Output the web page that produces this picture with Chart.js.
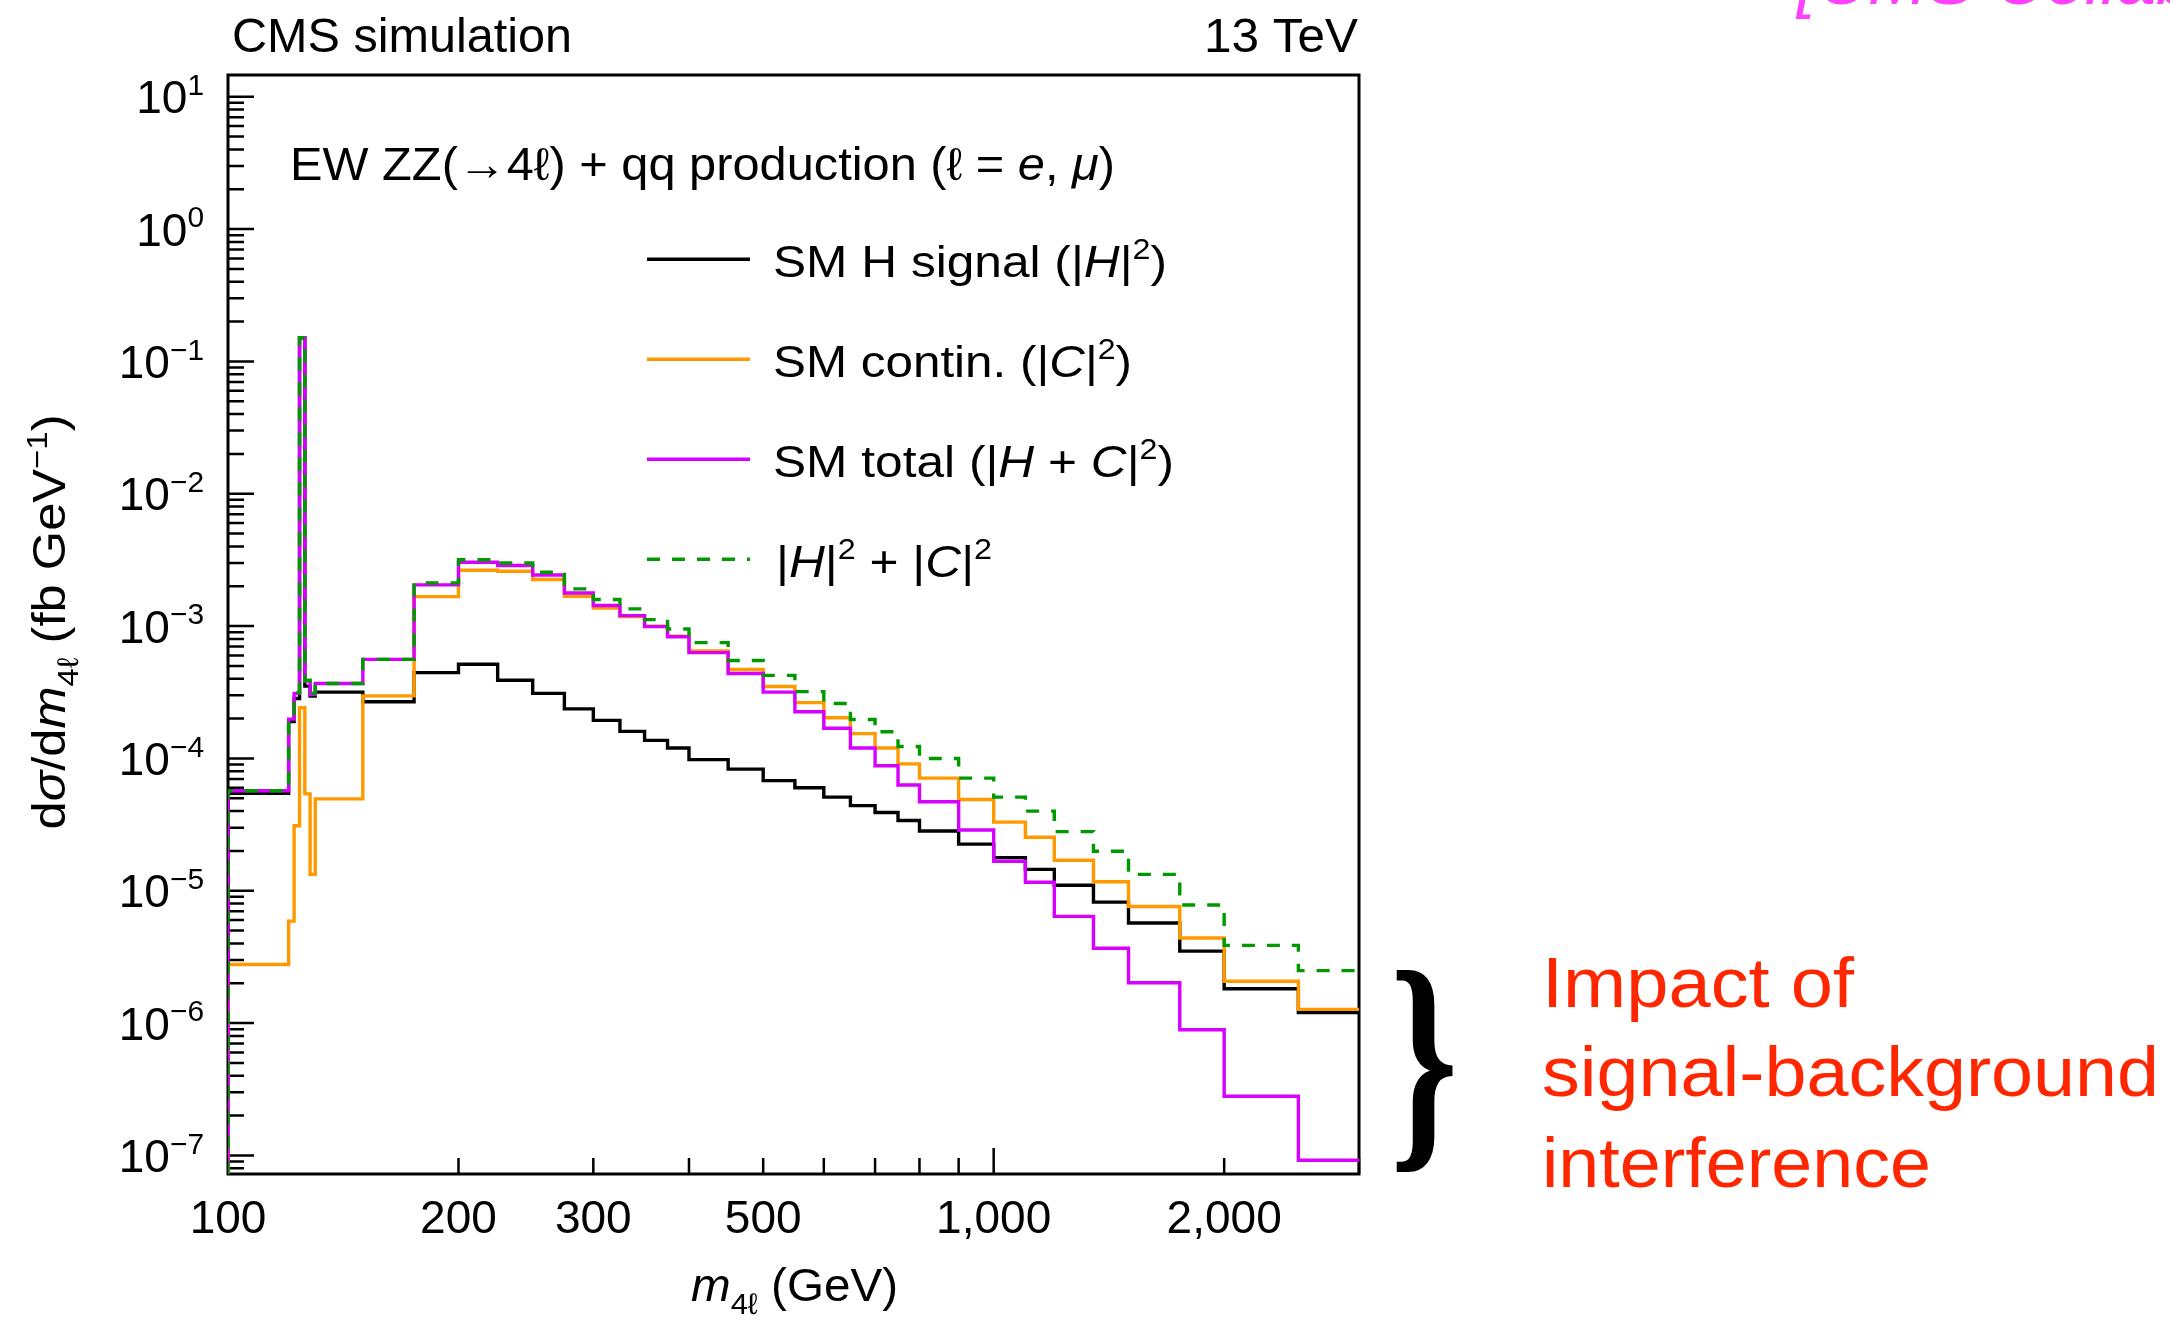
<!DOCTYPE html>
<html>
<head>
<meta charset="utf-8">
<title>EW ZZ(→4ℓ) + qq production</title>
<script src="https://cdn.jsdelivr.net/npm/chart.js@4.4.1/dist/chart.umd.min.js"></script>
<style>
    html, body { margin: 0; padding: 0; background: #fff; }
    #wrap { position: relative; width: 2170px; height: 1324px; overflow: hidden; }
</style>
</head>
<body>
<div id="wrap"><canvas id="m4lChart" width="2170" height="1324"></canvas></div>
<script>
// Bin edges of m4l (GeV)
const binEdges = [100, 120, 122, 124, 126, 128, 130, 150, 175, 200, 225, 250, 275, 300, 325, 350, 375, 400,
    450, 500, 550, 600, 650, 700, 750, 800, 900, 1000, 1100, 1200, 1350, 1500, 1750, 2000, 2500, 3000];

// dsigma/dm4l (fb/GeV), one value per bin
const hSignal = [5.45e-5, 1.9e-4, 2.84e-4, 0.151, 3.52e-4, 2.96e-4, 3.17e-4, 2.68e-4, 4.45e-4, 5.15e-4,
    3.9e-4, 3.1e-4, 2.37e-4, 1.94e-4, 1.6e-4, 1.37e-4, 1.2e-4, 9.8e-5, 8.3e-5, 6.8e-5,
    6.0e-5, 5.1e-5, 4.4e-5, 3.9e-5, 3.4e-5, 2.83e-5, 2.25e-5, 1.78e-5, 1.45e-5, 1.1e-5,
    8.2e-6, 5.7e-6, 3.5e-6, 1.82e-6, 1.2e-6];
const contin = [2.77e-6, 5.9e-6, 3.1e-5, 2.42e-4, 5.4e-5, 1.33e-5, 4.95e-5, 2.97e-4, 1.67e-3, 2.64e-3,
    2.6e-3, 2.25e-3, 1.68e-3, 1.37e-3, 1.18e-3, 1.0e-3, 8.4e-4, 6.5e-4, 4.7e-4, 3.5e-4,
    2.64e-4, 2.03e-4, 1.54e-4, 1.2e-4, 9.1e-5, 7.1e-5, 4.9e-5, 3.3e-5, 2.54e-5, 1.7e-5,
    1.17e-5, 7.6e-6, 4.4e-6, 2.07e-6, 1.27e-6];
const smTotal = [5.7e-5, 1.98e-4, 3.1e-4, 0.151, 3.84e-4, 3.04e-4, 3.68e-4, 5.6e-4, 2.05e-3, 3.04e-3,
    2.87e-3, 2.43e-3, 1.78e-3, 1.43e-3, 1.2e-3, 9.9e-4, 8.3e-4, 6.3e-4, 4.38e-4, 3.17e-4,
    2.25e-4, 1.69e-4, 1.2e-4, 8.8e-5, 6.3e-5, 4.7e-5, 2.88e-5, 1.67e-5, 1.16e-5, 6.4e-6,
    3.68e-6, 2.02e-6, 8.9e-7, 2.8e-7, 9.2e-8];
const sumSquares = [5.7e-5, 1.97e-4, 3.15e-4, 0.151, 3.9e-4, 3.1e-4, 3.68e-4, 5.6e-4, 2.12e-3, 3.17e-3,
    3.0e-3, 2.55e-3, 1.91e-3, 1.59e-3, 1.35e-3, 1.12e-3, 9.5e-4, 7.5e-4, 5.5e-4, 4.24e-4,
    3.2e-4, 2.6e-4, 1.97e-4, 1.59e-4, 1.23e-4, 1.0e-4, 7.1e-5, 5.1e-5, 4.0e-5, 2.8e-5,
    1.99e-5, 1.33e-5, 7.8e-6, 3.87e-6, 2.49e-6];

// Tick labels
const xTickLabels = [100, 200, 300, 500, 1000, 2000];
const xMinorTicks = [200, 300, 400, 500, 600, 700, 800, 900, 2000, 3000];
const yTickExponents = [-7, -6, -5, -4, -3, -2, -1, 0, 1];

const X_MIN = 100, X_MAX = 3000;
const Y_MIN = 7.24e-8, Y_MAX = 14.6;
const PLOT = { left: 228, top: 75, right: 1359, bottom: 1174 };
const FONT = '"Liberation Sans", Arial, Helvetica, sans-serif';
const LINE_W = 3.4;

// Build step points: vertical from the axis floor, one point per bin low edge, final high edge
function histPoints(edges, vals) {
    const pts = [{ x: edges[0], y: Y_MIN }];
    vals.forEach((v, i) => pts.push({ x: edges[i], y: v }));
    pts.push({ x: edges[edges.length - 1], y: vals[vals.length - 1] });
    return pts;
}

function runFont(r, fs) {
    const size = (r.sup || r.sub) ? fs * 0.65 : fs;
    return (r.it ? 'italic ' : '') + size.toFixed(1) + 'px ' + FONT;
}

// Draw a line of text made of runs (italic / sup / sub), optionally fitted to a width
function drawRich(ctx, runs, x, y, fs, opt = {}) {
    let natural = 0;
    runs.forEach(r => { ctx.font = runFont(r, fs); natural += ctx.measureText(r.t).width; });
    const target = opt.width || natural;
    let left = x;
    if (opt.align === 'right') left = x - target;
    else if (opt.align === 'center') left = x - target / 2;
    ctx.save();
    ctx.translate(left, y);
    ctx.scale(target / natural, 1);
    ctx.fillStyle = opt.color || '#000';
    ctx.textAlign = 'left';
    ctx.textBaseline = 'alphabetic';
    let cx = 0;
    runs.forEach(r => {
        ctx.font = runFont(r, fs);
        const dy = r.sup ? -fs * 0.4 : (r.sub ? fs * 0.28 : 0);
        ctx.fillText(r.t, cx, dy);
        cx += ctx.measureText(r.t).width;
    });
    ctx.restore();
}

// Frame and inward ticks, ROOT style
const framePlugin = {
    id: 'frame',
    beforeDatasetsDraw(chart) {
        const { ctx, chartArea: a, scales: { x, y } } = chart;
        ctx.save();
        ctx.strokeStyle = '#000';
        ctx.lineWidth = 2.5;
        ctx.beginPath();
        yTickExponents.forEach(e => {
            const py = y.getPixelForValue(Math.pow(10, e));
            ctx.moveTo(a.left, py); ctx.lineTo(a.left + 26, py);
        });
        for (let e = -8; e <= 1; e++) {
            for (let k = 2; k <= 9; k++) {
                const v = k * Math.pow(10, e);
                if (v < Y_MIN || v > Y_MAX) continue;
                const py = y.getPixelForValue(v);
                ctx.moveTo(a.left, py); ctx.lineTo(a.left + 16, py);
            }
        }
        const p1000 = x.getPixelForValue(1000);
        ctx.moveTo(p1000, a.bottom); ctx.lineTo(p1000, a.bottom - 26);
        xMinorTicks.forEach(v => {
            const px = x.getPixelForValue(v);
            ctx.moveTo(px, a.bottom); ctx.lineTo(px, a.bottom - 16);
        });
        ctx.stroke();
        ctx.lineWidth = 3;
        ctx.strokeRect(a.left, a.top, a.right - a.left, a.bottom - a.top);
        ctx.restore();
    },
    afterDraw(chart) {
        const { ctx, scales: { x, y } } = chart;

        // axis tick labels
        xTickLabels.forEach(v => {
            drawRich(ctx, [{ t: v.toLocaleString('en-US') }], x.getPixelForValue(v), 1233, 46, { align: 'center' });
        });
        yTickExponents.forEach(e => {
            const py = y.getPixelForValue(Math.pow(10, e));
            const exp = e < 0 ? '\u2212' + Math.abs(e) : String(e);
            drawRich(ctx, [{ t: '10' }, { t: exp, sup: true }], 204, py + 16.5, 46, { align: 'right' });
        });

        // axis titles
        drawRich(ctx, [{ t: 'm', it: true }, { t: '4\u2113', sub: true }, { t: ' (GeV)' }], 691, 1301, 46, { width: 207 });
        ctx.save();
        ctx.translate(65, 622);
        ctx.rotate(-Math.PI / 2);
        drawRich(ctx, [{ t: 'd' }, { t: '\u03c3', it: true }, { t: '/d' }, { t: 'm', it: true }, { t: '4\u2113', sub: true },
            { t: ' (fb GeV' }, { t: '\u22121', sup: true }, { t: ')' }], 0, 0, 46, { align: 'center', width: 415 });
        ctx.restore();

        // header
        drawRich(ctx, [{ t: 'CMS simulation' }], 232, 52, 48, { width: 340 });
        drawRich(ctx, [{ t: '13 TeV' }], 1358, 52, 48, { align: 'right', width: 154 });
        drawRich(ctx, [{ t: 'EW ZZ(\u21924\u2113) + qq production (\u2113 = ' }, { t: 'e', it: true }, { t: ', ' },
            { t: '\u03bc', it: true }, { t: ')' }], 290, 180, 46, { width: 825 });

        // legend
        const legend = [
            { color: '#000000', dash: [], base: 276.7, w: 394, x: 773,
              runs: [{ t: 'SM H signal (|' }, { t: 'H', it: true }, { t: '|' }, { t: '2', sup: true }, { t: ')' }] },
            { color: '#FF9900', dash: [], base: 376.7, w: 359, x: 773,
              runs: [{ t: 'SM contin. (|' }, { t: 'C', it: true }, { t: '|' }, { t: '2', sup: true }, { t: ')' }] },
            { color: '#D600FF', dash: [], base: 476.7, w: 401, x: 773,
              runs: [{ t: 'SM total (|' }, { t: 'H', it: true }, { t: ' + ' }, { t: 'C', it: true }, { t: '|' }, { t: '2', sup: true }, { t: ')' }] },
            { color: '#009900', dash: [13, 12], base: 576.7, w: 216, x: 776,
              runs: [{ t: '|' }, { t: 'H', it: true }, { t: '|' }, { t: '2', sup: true }, { t: ' + |' }, { t: 'C', it: true }, { t: '|' }, { t: '2', sup: true }] }
        ];
        legend.forEach(item => {
            ctx.save();
            ctx.strokeStyle = item.color;
            ctx.lineWidth = LINE_W;
            ctx.setLineDash(item.dash);
            ctx.beginPath();
            ctx.moveTo(647, item.base - 17.5);
            ctx.lineTo(750, item.base - 17.5);
            ctx.stroke();
            ctx.restore();
            drawRich(ctx, item.runs, item.x, item.base, 44, { width: item.w });
        });

        // annotation on the right
        ctx.save();
        ctx.font = 'bold 200px "Liberation Serif", "DejaVu Serif", serif';
        ctx.textAlign = 'left';
        ctx.textBaseline = 'alphabetic';
        const m = ctx.measureText('}');
        const gw = m.actualBoundingBoxLeft + m.actualBoundingBoxRight;
        const gh = m.actualBoundingBoxAscent + m.actualBoundingBoxDescent;
        ctx.translate(1396, 971);
        ctx.scale(57 / gw, 201 / gh);
        ctx.fillStyle = '#000';
        ctx.fillText('}', m.actualBoundingBoxLeft, m.actualBoundingBoxAscent);
        ctx.restore();

        const red = '#FF2600';
        drawRich(ctx, [{ t: 'Impact of' }], 1542, 1006.7, 71, { width: 312, color: red });
        drawRich(ctx, [{ t: 'signal-background' }], 1542, 1096, 71, { width: 617, color: red });
        drawRich(ctx, [{ t: 'interference' }], 1542, 1186.7, 71, { width: 389, color: red });

        drawRich(ctx, [{ t: '[CMS Collaboration', it: true }], 1797, 4, 71, { color: '#FF40FF' });
    }
};

const ctx = document.getElementById('m4lChart').getContext('2d');
new Chart(ctx, {
    type: 'line',
    data: {
        datasets: [
            {
                label: '|H|^2 + |C|^2',
                data: histPoints(binEdges, sumSquares),
                borderColor: '#009900',
                borderDash: [13, 12],
                order: 0
            },
            {
                label: 'SM total (|H + C|^2)',
                data: histPoints(binEdges, smTotal),
                borderColor: '#D600FF',
                order: 1
            },
            {
                label: 'SM contin. (|C|^2)',
                data: histPoints(binEdges, contin),
                borderColor: '#FF9900',
                order: 2
            },
            {
                label: 'SM H signal (|H|^2)',
                data: histPoints(binEdges, hSignal),
                borderColor: '#000000',
                order: 3
            }
        ]
    },
    options: {
        responsive: false,
        animation: false,
        devicePixelRatio: 1,
        layout: {
            padding: { left: PLOT.left, top: PLOT.top, right: 2170 - PLOT.right, bottom: 1324 - PLOT.bottom }
        },
        elements: {
            line: { borderWidth: LINE_W, stepped: true, tension: 0, fill: false, borderJoinStyle: 'miter', borderCapStyle: 'butt' },
            point: { radius: 0, hoverRadius: 0 }
        },
        scales: {
            x: {
                type: 'logarithmic', min: X_MIN, max: X_MAX, bounds: 'data', display: false,
                afterFit: s => { s.height = 0; }
            },
            y: {
                type: 'logarithmic', min: Y_MIN, max: Y_MAX, bounds: 'data', display: false,
                afterFit: s => { s.width = 0; }
            }
        },
        plugins: {
            legend: { display: false },
            tooltip: { enabled: false }
        }
    },
    plugins: [framePlugin]
});
</script>
</body>
</html>
